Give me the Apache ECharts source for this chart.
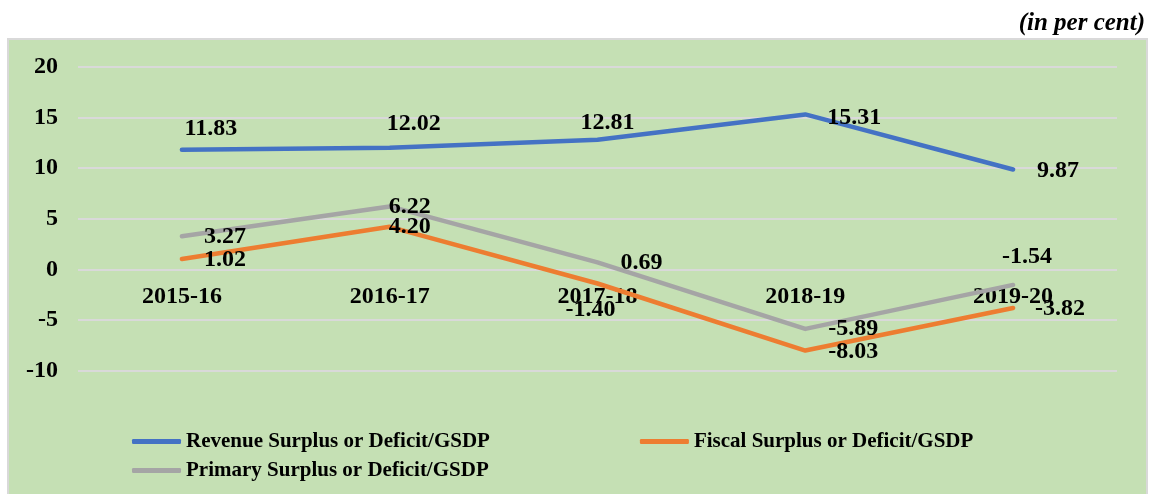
<!DOCTYPE html>
<html>
<head>
<meta charset="utf-8">
<script src="https://cdn.jsdelivr.net/npm/echarts@6/dist/echarts.min.js"></script>
<style>
  html, body { margin: 0; padding: 0; background: #ffffff; }
  #wrap { position: relative; width: 1158px; height: 494px; }
  #box { position: absolute; left: 7px; top: 38px; width: 1141px; height: 460px;
         background: #c5e0b4; border: 2px solid #d9d9d9; box-sizing: border-box; }
  #main { position: absolute; left: 0; top: 0; width: 1158px; height: 494px; }
</style>
</head>
<body>
<div id="wrap">
  <div id="box"></div>
  <div id="main"></div>
</div>
<script>
// data
let years = ['2015-16', '2016-17', '2017-18', '2018-19', '2019-20'];
let revenue = [11.83, 12.02, 12.81, 15.31, 9.87];
let fiscal = [1.02, 4.20, -1.40, -8.03, -3.82];
let primary = [3.27, 6.22, 0.69, -5.89, -1.54];
let names = ['Revenue Surplus or Deficit/GSDP', 'Fiscal Surplus or Deficit/GSDP', 'Primary Surplus or Deficit/GSDP'];

// where each data label sits relative to its point (px)
let revenueLabelOffset = [[29, -21], [24, -24], [10, -17], [49, 3], [45, 1]];
let fiscalLabelOffset = [[43, 1], [20, 0], [-7, 26], [48, 1], [47, 1]];
let primaryLabelOffset = [[43, 1], [20, 0], [44, 0], [48, 0], [14, -28]];

const FONT = '"Liberation Serif", "Times New Roman", serif';

function buildData(values, offsets){
    return values.map((v, i) => ({
        value: v,
        label: { offset: offsets[i] }
    }));
}

function makeSeries(name, values, offsets, color){
    return {
        name: name,
        type: 'line',
        data: buildData(values, offsets),
        symbol: 'circle',
        symbolSize: 2,
        showSymbol: true,
        itemStyle: { color: color },
        lineStyle: { color: color, width: 4.5, cap: 'round', join: 'round' },
        label: {
            show: true,
            position: 'inside',
            color: '#000',
            fontFamily: FONT,
            fontWeight: 'bold',
            fontSize: 24,
            formatter: function(p){ return p.value.toFixed(2); }
        },
        animation: false
    };
}

let chartDom = document.getElementById('main');
let myChart = echarts.init(chartDom);
let option = {
    title: {
        text: '(in per cent)',
        right: 8,
        top: 6,
        textStyle: { fontFamily: FONT, fontWeight: 'bold', fontStyle: 'italic', fontSize: 25, color: '#000' }
    },
    legend: [
        {
            data: [names[0], names[1]],
            left: 132, top: 431, padding: 0,
            itemGap: 150, itemWidth: 49, itemHeight: 5,
            icon: 'roundRect',
            textStyle: { fontFamily: FONT, fontWeight: 'bold', fontSize: 21, color: '#000' }
        },
        {
            data: [names[2]],
            left: 132, top: 460, padding: 0,
            itemWidth: 49, itemHeight: 5,
            icon: 'roundRect',
            textStyle: { fontFamily: FONT, fontWeight: 'bold', fontSize: 21, color: '#000' }
        }
    ],
    grid: { left: 78, right: 41, top: 67, bottom: 123.5, containLabel: false },
    xAxis: {
        type: 'category',
        data: years,
        boundaryGap: true,
        // labels sit just under the zero line, as in the source
        offset: -100.5,
        axisLine: { show: false, onZero: false },
        axisTick: { show: false },
        axisLabel: { margin: 15, color: '#000', fontFamily: FONT, fontWeight: 'bold', fontSize: 24 }
    },
    yAxis: {
        type: 'value',
        min: -10, max: 20, interval: 5,
        axisLine: { show: false },
        axisTick: { show: false },
        splitLine: { lineStyle: { color: '#d9d9d9', width: 2 } },
        axisLabel: { margin: 20, color: '#000', fontFamily: FONT, fontWeight: 'bold', fontSize: 24 }
    },
    series: [
        makeSeries(names[0], revenue, revenueLabelOffset, '#4472c4'),
        makeSeries(names[1], fiscal, fiscalLabelOffset, '#ed7d31'),
        makeSeries(names[2], primary, primaryLabelOffset, '#a5a5a5')
    ]
};
myChart.setOption(option);

window.addEventListener('resize', function(){
    myChart.resize();
});
</script>
</body>
</html>
